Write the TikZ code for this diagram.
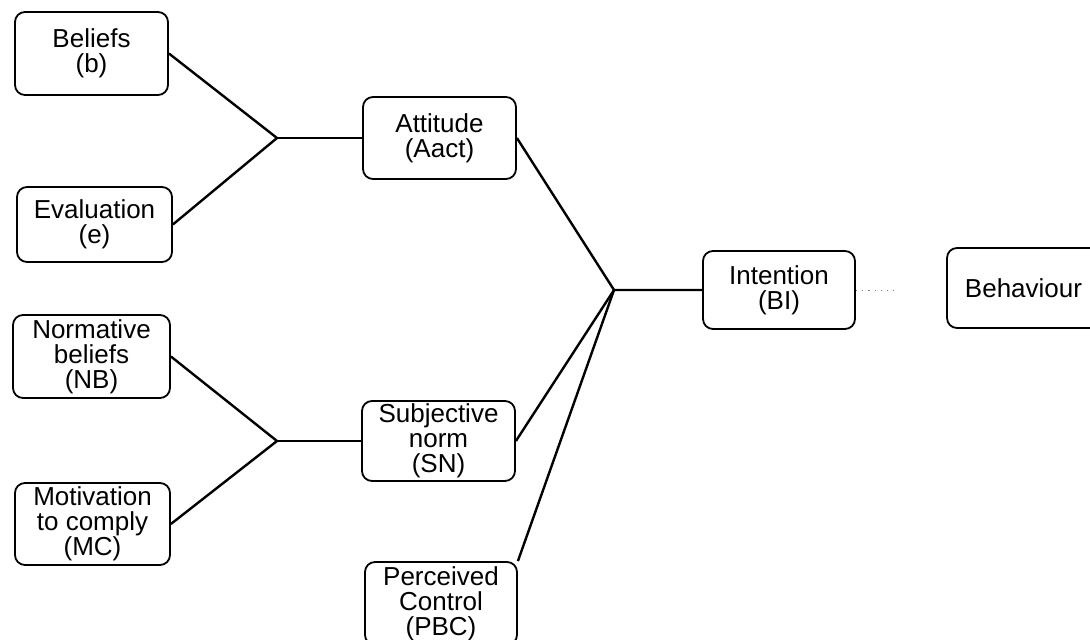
\documentclass[tikz,border=0pt]{standalone}
\usepackage{fontspec}
\setmainfont{Liberation Sans}
\begin{document}
\begin{tikzpicture}[x=0.5pt,y=-0.5pt,
    box/.style={draw,rounded corners=5pt,line width=0.9pt,align=center,inner sep=1pt,
      minimum width=76.5pt,minimum height=41pt,font=\fontsize{13}{12.5}\selectfont},
    link/.style={line width=1.2pt}]
    \clip (0,0) rectangle (1090,640);
    \node[box,minimum height=41.5pt](bel) at (91.5,53.5){Beliefs\\(b)};
    \node[box,minimum width=77.5pt,minimum height=37.5pt](eva) at (94.5,224.5){Evaluation\\(e)};
    \node[box](att) at (439.5,138){Attitude\\(Aact)};
    \node[box,minimum width=78.5pt,minimum height=41.5pt](nb) at (91.5,356.5){Normative\\beliefs\\(NB)};
    \node[box,minimum width=77.5pt](mc) at (92.5,524){Motivation\\to comply\\(MC)};
    \node[box,minimum height=40pt](sn) at (438.5,441){Subjective\\norm\\(SN)};
    \node[box,minimum width=76pt,minimum height=41.5pt](pbc) at (441,603.5){Perceived\\Control\\(PBC)};
    \node[box,minimum width=76pt,minimum height=39pt](int) at (779,290){Intention\\(BI)};
    \node[box,minimum height=40pt](beh) at (1023.5,288){Behaviour};
    \coordinate(j1) at (277,138);
    \coordinate(j2) at (277,441);
    \coordinate(j3) at (614,290);
    \coordinate(d) at (895,290);
    \draw[link](bel.east) -- (j1) -- (eva.east);
    \draw[link](j1) -- (att);
    \draw[link](nb.east) -- (j2) -- (mc.east);
    \draw[link](j2) -- (sn);
    \draw[link](att.east) -- (j3) -- (sn.east);
    \draw[link](pbc.north east) -- (j3) -- (int);
    \draw[gray,line width=0.4pt,dash pattern=on 0.6pt off 2.5pt](int.east) -- (d);
\end{tikzpicture}
\end{document}
